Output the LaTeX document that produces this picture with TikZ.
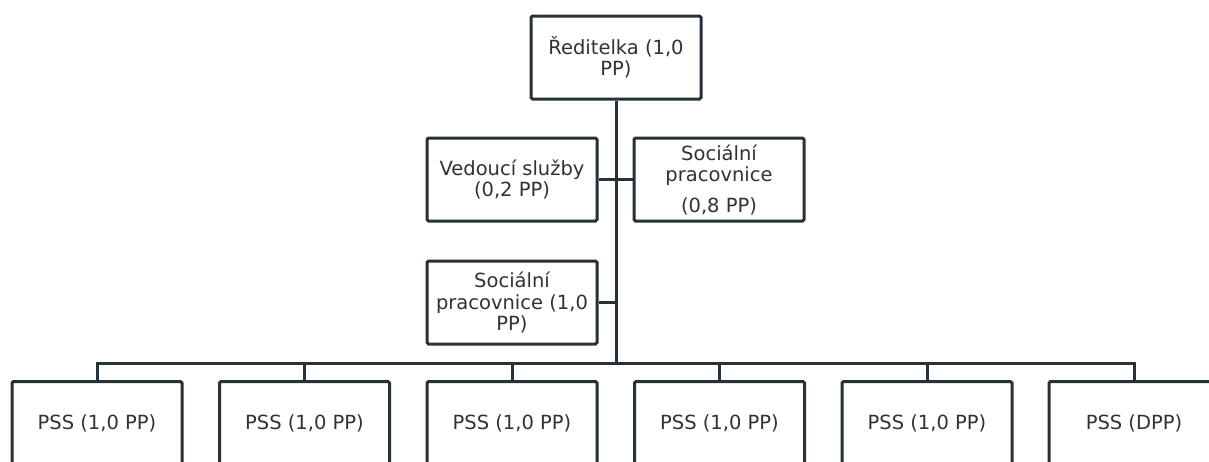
\documentclass[tikz,border=0pt]{standalone}
\usepackage{fontspec}
\setmainfont{DejaVu Sans}
\definecolor{linecol}{RGB}{38,50,56}
\definecolor{textcol}{RGB}{50,50,50}

\begin{document}
\begin{tikzpicture}[x=1pt,y=-1pt,
  box/.style={draw=linecol,line width=3pt,rounded corners=1.5pt,fill=white,text=textcol,
    minimum width=170pt,minimum height=83pt,inner sep=0pt,align=center,
    font=\fontsize{19.5}{21.5}\selectfont},
  link/.style={draw=linecol,line width=3pt}]
\useasboundingbox (0,0) rectangle (1209,461);
\clip (0,0) rectangle (1209,461);
\node[box] (dir) at (616,57.5) {Ředitelka (1,0\\PP)};
\node[box] (ved) at (512,179.5) {Vedoucí služby\\(0,2 PP)};
\node[box] (soc1) at (719,179.5) {Sociální\\pracovnice\\[9pt](0,8 PP)};
\node[box] (soc2) at (512,302.5) {Sociální\\pracovnice (1,0\\PP)};
\coordinate (bar) at (616,363);
\node[box] (pss1) at (97,423) {PSS (1,0 PP)};
\node[box] (pss2) at (304.5,423) {PSS (1,0 PP)};
\node[box] (pss3) at (512,423) {PSS (1,0 PP)};
\node[box] (pss4) at (719.5,423) {PSS (1,0 PP)};
\node[box] (pss5) at (927,423) {PSS (1,0 PP)};
\node[box] (pss6) at (1134,423) {PSS (DPP)};
\draw[link] (dir.south) -- (bar);
\draw[link] (ved.east) -- (soc1.west);
\draw[link] (soc2.east) -- (soc2.east -| bar);
\draw[link] (pss1.north) |- (pss6.north |- bar) -- (pss6.north);
\draw[link] (pss2.north) -- (pss2.north |- bar);
\draw[link] (pss3.north) -- (pss3.north |- bar);
\draw[link] (pss4.north) -- (pss4.north |- bar);
\draw[link] (pss5.north) -- (pss5.north |- bar);
\end{tikzpicture}
\end{document}
